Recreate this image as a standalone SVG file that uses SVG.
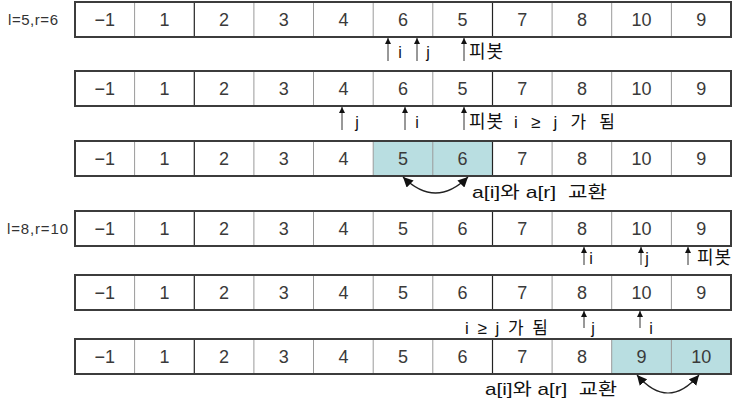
<svg xmlns="http://www.w3.org/2000/svg" width="741" height="404" viewBox="0 0 741 404">
<style>
.frame{fill:none;stroke:#3c3c3c;stroke-width:2}
.sep{stroke:#9a9a9a;stroke-width:1}
.sepd{stroke:#222;stroke-width:1.2}
.hl{fill:#b9dee1}
.num{font-family:"Liberation Sans",Arial,sans-serif;font-size:18px;fill:#3a3a3a;text-anchor:middle}
.lbl{font-family:"Liberation Sans",Arial,sans-serif;font-size:15px;fill:#333}
.ptr{font-family:"Liberation Sans","Noto Sans CJK KR",sans-serif;font-size:16px;fill:#111}
.kr{font-family:"Liberation Sans","Noto Sans CJK KR",sans-serif;font-size:17px;fill:#111}
.pv{font-family:"Noto Sans CJK KR","Liberation Sans",sans-serif;font-size:18px;fill:#111;letter-spacing:1px}
.arr{stroke:#333;stroke-width:1;fill:none}
.swap{stroke:#222;stroke-width:1.2;fill:none}
</style>
<defs>
<marker id="ah" viewBox="0 0 10 10" refX="10" refY="5" markerWidth="6" markerHeight="6" markerUnits="userSpaceOnUse" orient="auto"><path d="M0,0 L10,5 L0,10 z" fill="#111"/></marker>
<marker id="ah2" viewBox="0 0 10 10" refX="10" refY="5" markerWidth="10" markerHeight="10" markerUnits="userSpaceOnUse" orient="auto-start-reverse"><path d="M0,0 L10,5 L0,10 z" fill="#111"/></marker>
<g id="cells">
<line class="sep" x1="134.6" y1="0" x2="134.6" y2="35"/>
<line class="sepd" x1="194.3" y1="0" x2="194.3" y2="35"/>
<line class="sep" x1="253.9" y1="0" x2="253.9" y2="35"/>
<line class="sep" x1="313.5" y1="0" x2="313.5" y2="35"/>
<line class="sep" x1="373.2" y1="0" x2="373.2" y2="35"/>
<line class="sep" x1="432.8" y1="0" x2="432.8" y2="35"/>
<line class="sepd" x1="492.5" y1="0" x2="492.5" y2="35"/>
<line class="sep" x1="552.1" y1="0" x2="552.1" y2="35"/>
<line class="sep" x1="611.7" y1="0" x2="611.7" y2="35"/>
<line class="sep" x1="671.4" y1="0" x2="671.4" y2="35"/>
<rect class="frame" x="75" y="0" width="656" height="35"/>
</g>
</defs>

<g id="row1">
<use href="#cells" y="2"/>
<text class="lbl" x="8" y="25" textLength="50">l=5,r=6</text>
<g class="num">
<text x="104.8" y="26">−1</text><text x="164.5" y="26">1</text><text x="224.1" y="26">2</text><text x="283.7" y="26">3</text><text x="343.4" y="26">4</text><text x="403" y="26">6</text><text x="462.6" y="26">5</text><text x="522.3" y="26">7</text><text x="581.9" y="26">8</text><text x="641.5" y="26">10</text><text x="701.2" y="26">9</text>
</g>
<text class="ptr" x="400" y="58" text-anchor="middle">i</text>
<text class="ptr" x="428" y="58" text-anchor="middle">j</text>
<text class="pv" x="469" y="58">피봇</text>
</g>

<g id="row2">
<use href="#cells" y="71"/>
<g class="num">
<text x="104.8" y="95">−1</text><text x="164.5" y="95">1</text><text x="224.1" y="95">2</text><text x="283.7" y="95">3</text><text x="343.4" y="95">4</text><text x="403" y="95">6</text><text x="462.6" y="95">5</text><text x="522.3" y="95">7</text><text x="581.9" y="95">8</text><text x="641.5" y="95">10</text><text x="701.2" y="95">9</text>
</g>
<text class="ptr" x="357" y="128" text-anchor="middle">j</text>
<text class="ptr" x="417" y="128" text-anchor="middle">i</text>
<text class="pv" x="469" y="128">피봇</text>
<text class="kr" x="514" y="128" textLength="101">i ≥ j 가 됨</text>
</g>

<g id="row3">
<rect class="hl" x="373.2" y="141" width="119.3" height="35"/>
<use href="#cells" y="141"/>
<g class="num">
<text x="104.8" y="165">−1</text><text x="164.5" y="165">1</text><text x="224.1" y="165">2</text><text x="283.7" y="165">3</text><text x="343.4" y="165">4</text><text x="403" y="165">5</text><text x="462.6" y="165">6</text><text x="522.3" y="165">7</text><text x="581.9" y="165">8</text><text x="641.5" y="165">10</text><text x="701.2" y="165">9</text>
</g>
<text class="kr" x="472" y="198" font-size="18" textLength="135" lengthAdjust="spacingAndGlyphs" xml:space="preserve">a[i]와 a[r]  교환</text>
</g>

<g id="row4">
<use href="#cells" y="211"/>
<text class="lbl" x="7" y="234" textLength="61">l=8,r=10</text>
<g class="num">
<text x="104.8" y="235">−1</text><text x="164.5" y="235">1</text><text x="224.1" y="235">2</text><text x="283.7" y="235">3</text><text x="343.4" y="235">4</text><text x="403" y="235">5</text><text x="462.6" y="235">6</text><text x="522.3" y="235">7</text><text x="581.9" y="235">8</text><text x="641.5" y="235">10</text><text x="701.2" y="235">9</text>
</g>
<text class="ptr" x="591" y="264" text-anchor="middle">i</text>
<text class="ptr" x="647" y="264" text-anchor="middle">j</text>
<text class="pv" x="697" y="264" font-size="17" letter-spacing="0">피봇</text>
</g>

<g id="row5">
<use href="#cells" y="275"/>
<g class="num">
<text x="104.8" y="299">−1</text><text x="164.5" y="299">1</text><text x="224.1" y="299">2</text><text x="283.7" y="299">3</text><text x="343.4" y="299">4</text><text x="403" y="299">5</text><text x="462.6" y="299">6</text><text x="522.3" y="299">7</text><text x="581.9" y="299">8</text><text x="641.5" y="299">10</text><text x="701.2" y="299">9</text>
</g>
<text class="ptr" x="593" y="334" text-anchor="middle">j</text>
<text class="ptr" x="651" y="334" text-anchor="middle">i</text>
<text class="kr" x="465" y="334" font-size="16" textLength="83">i ≥ j 가 됨</text>
</g>

<g id="row6">
<rect class="hl" x="611.7" y="339" width="119.3" height="35"/>
<use href="#cells" y="339"/>
<g class="num">
<text x="104.8" y="363">−1</text><text x="164.5" y="363">1</text><text x="224.1" y="363">2</text><text x="283.7" y="363">3</text><text x="343.4" y="363">4</text><text x="403" y="363">5</text><text x="462.6" y="363">6</text><text x="522.3" y="363">7</text><text x="581.9" y="363">8</text><text x="641.5" y="363">9</text><text x="701.2" y="363">10</text>
</g>
<text class="kr" x="485" y="395" font-size="18" textLength="132" lengthAdjust="spacingAndGlyphs" xml:space="preserve">a[i]와 a[r]  교환</text>
</g>

<g id="connectors">
<line class="arr" x1="388" y1="61" x2="388" y2="38" marker-end="url(#ah)"/>
<line class="arr" x1="417" y1="61" x2="417" y2="38" marker-end="url(#ah)"/>
<line class="arr" x1="464" y1="61" x2="464" y2="38" marker-end="url(#ah)"/>
<line class="arr" x1="342" y1="130" x2="342" y2="107" marker-end="url(#ah)"/>
<line class="arr" x1="405" y1="130" x2="405" y2="107" marker-end="url(#ah)"/>
<line class="arr" x1="464" y1="130" x2="464" y2="107" marker-end="url(#ah)"/>
<line class="arr" x1="584" y1="265" x2="584" y2="247" marker-end="url(#ah)"/>
<line class="arr" x1="641" y1="265" x2="641" y2="247" marker-end="url(#ah)"/>
<line class="arr" x1="688" y1="265" x2="688" y2="247" marker-end="url(#ah)"/>
<line class="arr" x1="584" y1="328" x2="584" y2="311" marker-end="url(#ah)"/>
<line class="arr" x1="640" y1="328" x2="640" y2="311" marker-end="url(#ah)"/>
<path class="swap" d="M403,177 Q435.5,209 468,177" marker-start="url(#ah2)" marker-end="url(#ah2)"/>
<path class="swap" d="M637,375 Q668,411 699,375" marker-start="url(#ah2)" marker-end="url(#ah2)"/>
</g>
</svg>
